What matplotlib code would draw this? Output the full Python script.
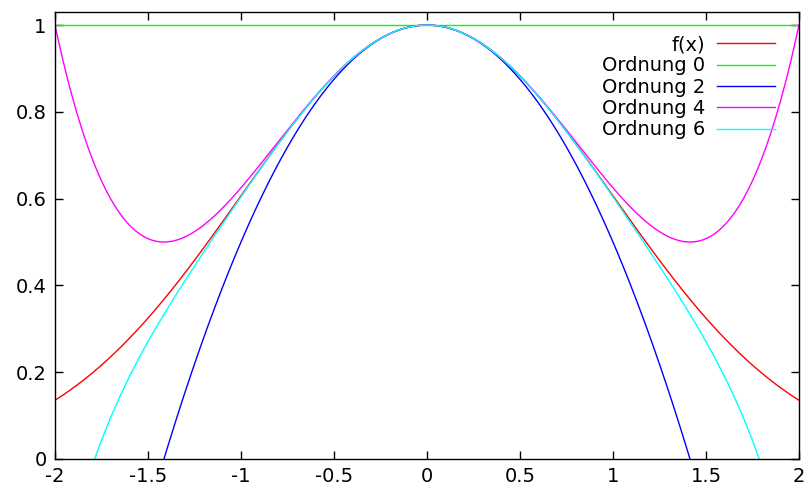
import numpy as np
import matplotlib.pyplot as plt

# Taylor coefficients (highest power first)
order_labels = ['Ordnung 0', 'Ordnung 2', 'Ordnung 4', 'Ordnung 6']
order_coeffs = [
    [1.0],
    [-1/2, 0, 1.0],
    [1/8, 0, -1/2, 0, 1.0],
    [-1/48, 0, 1/8, 0, -1/2, 0, 1.0],
]
order_colors = ['#00ff00', '#0000ff', '#ff00ff', '#00ffff']

x_range = [-2, 2]
y_range = [0, 1.029]
xticks = [-2, -1.5, -1, -0.5, 0, 0.5, 1, 1.5, 2]
yticks = [0, 0.2, 0.4, 0.6, 0.8, 1]

x = np.linspace(x_range[0], x_range[1], 801)

fig = plt.figure(figsize=(8.05, 4.9), dpi=100)
ax = fig.add_axes([0.0683, 0.0633, 0.9242, 0.9112])

ax.plot(x, np.exp(-x**2 / 2), color='#ff0000', lw=1, label='f(x)')
for lab, c, col in zip(order_labels, order_coeffs, order_colors):
    ax.plot(x, np.polyval(c, x), color=col, lw=1, label=lab)

ax.set_xlim(x_range)
ax.set_ylim(y_range)
ax.set_xticks(xticks)
ax.set_xticklabels(['-2', '-1.5', '-1', '-0.5', '0', '0.5', '1', '1.5', '2'])
ax.set_yticks(yticks)
ax.set_yticklabels(['0', '0.2', '0.4', '0.6', '0.8', '1'])
ax.tick_params(direction='in', length=6, width=1, top=True, right=True,
               labelsize=14, pad=6)
for s in ax.spines.values():
    s.set_linewidth(1)

leg = ax.legend(loc='upper right', frameon=False, markerfirst=False,
                fontsize=14, handlelength=3.0, handletextpad=0.6,
                labelspacing=0.12, borderaxespad=0.6,
                bbox_to_anchor=(0.994, 0.993))
for t in leg.get_texts():
    t.set_ha('right')
leg._legend_box.align = 'right'

fig.savefig('out.png', dpi=100)
